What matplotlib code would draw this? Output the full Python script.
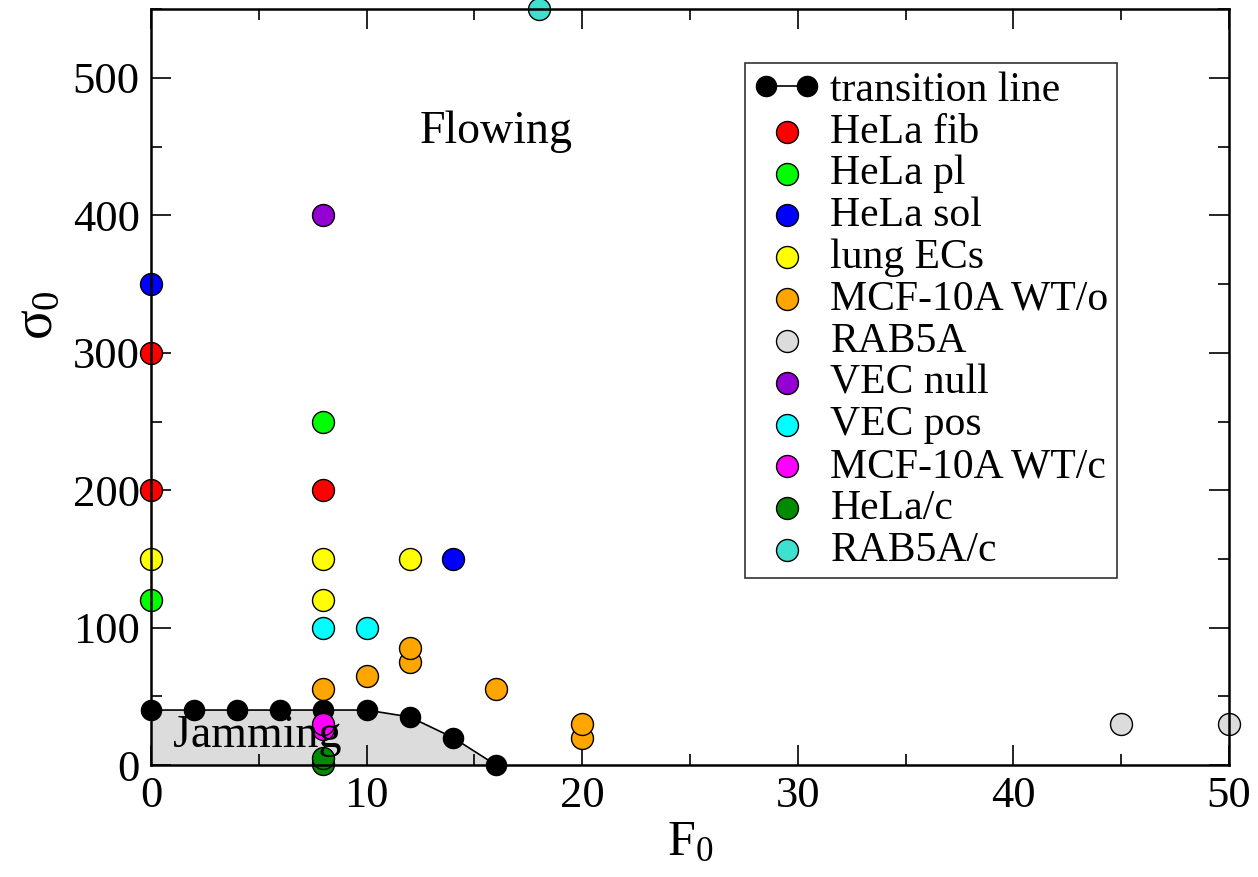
import matplotlib.pyplot as plt
from matplotlib.ticker import MultipleLocator

plt.rcParams["font.family"] = ["Liberation Serif", "DejaVu Serif"]
plt.rcParams["mathtext.fontset"] = "custom"
plt.rcParams["mathtext.rm"] = "Liberation Serif"
plt.rcParams["mathtext.it"] = "Liberation Serif"

# transition line between jamming and flowing
trans_f = [0, 2, 4, 6, 8, 10, 12, 14, 16]
trans_sigma = [40, 40, 40, 40, 40, 40, 35, 20, 0]

# experimental points (F0, sigma0)
hela_fib_f = [0, 0, 8]
hela_fib_s = [300, 200, 200]
hela_pl_f = [0, 8]
hela_pl_s = [120, 250]
hela_sol_f = [0, 14]
hela_sol_s = [350, 150]
lung_f = [0, 8, 8, 12]
lung_s = [150, 150, 120, 150]
mcf_o_f = [8, 10, 12, 12, 16, 20, 20]
mcf_o_s = [55, 65, 75, 85, 55, 20, 30]
rab5a_f = [45, 50]
rab5a_s = [30, 30]
vec_null_f = [8]
vec_null_s = [400]
vec_pos_f = [8, 10]
vec_pos_s = [100, 100]
mcf_c_f = [8, 8]
mcf_c_s = [26, 30]
hela_c_f = [8, 8]
hela_c_s = [1, 5]
rab5a_c_f = [18]
rab5a_c_s = [550]

series = [
    ("HeLa fib", hela_fib_f, hela_fib_s, "#ff0000"),
    ("HeLa pl", hela_pl_f, hela_pl_s, "#00ff00"),
    ("HeLa sol", hela_sol_f, hela_sol_s, "#0000ff"),
    ("lung ECs", lung_f, lung_s, "#ffff00"),
    ("MCF-10A WT/o", mcf_o_f, mcf_o_s, "#ffa500"),
    ("RAB5A", rab5a_f, rab5a_s, "#dcdcdc"),
    ("VEC null", vec_null_f, vec_null_s, "#9400d3"),
    ("VEC pos", vec_pos_f, vec_pos_s, "#00ffff"),
    ("MCF-10A WT/c", mcf_c_f, mcf_c_s, "#ff00ff"),
    ("HeLa/c", hela_c_f, hela_c_s, "#008b00"),
    ("RAB5A/c", rab5a_c_f, rab5a_c_s, "#40e0d0"),
]

fig = plt.figure(figsize=(12.58, 8.77), dpi=100)
ax = fig.add_axes([0.120, 0.1277, 0.857, 0.8617])

ax.fill_between(trans_f, trans_sigma, 0, color="#dcdcdc", lw=0, zorder=1)
ax.plot(trans_f, trans_sigma, "-o", color="black", lw=1.2, ms=14.5,
        label="transition line", zorder=3, clip_on=False)

for name, fx, sy, col in series:
    ax.scatter(fx, sy, s=250, c=col, edgecolors="black", linewidths=1.0,
               label=name, zorder=4, clip_on=False)

ax.text(12.48, 453, "Flowing", fontsize=33, ha="left", va="baseline", zorder=5)
ax.text(1.0, 13, "Jamming", fontsize=33, ha="left", va="baseline", zorder=5)

ax.set_xlim(0, 50)
ax.set_ylim(0, 550)
ax.xaxis.set_major_locator(MultipleLocator(10))
ax.xaxis.set_minor_locator(MultipleLocator(5))
ax.yaxis.set_major_locator(MultipleLocator(100))
ax.yaxis.set_minor_locator(MultipleLocator(50))
ax.tick_params(which="both", direction="in", top=True, right=True, width=1.2)
ax.tick_params(which="major", length=14.5, labelsize=32, pad=8)
ax.tick_params(which="minor", length=8)
for sp in ax.spines.values():
    sp.set_linewidth(1.8)
    sp.set_zorder(6)

ax.set_xlabel(r"$\mathrm{F}_0$", fontsize=36)
ax.set_ylabel(r"$\sigma_0$", fontsize=40)
ax.xaxis.set_label_coords(0.5, -0.103)
ax.xaxis.label.set_va("center")
ax.yaxis.set_label_coords(-0.105, 0.595)
ax.yaxis.label.set_va("center")
ax.yaxis.label.set_ha("center")

leg = ax.legend(loc="upper left", bbox_to_anchor=(0.551, 0.929), fontsize=30,
                numpoints=2, scatterpoints=1, frameon=True, fancybox=False,
                borderpad=0.2, labelspacing=0.08, handlelength=1.6,
                handletextpad=0.25, borderaxespad=0)
leg.get_frame().set_edgecolor("black")
leg.get_frame().set_linewidth(1.2)
leg.set_zorder(7)

fig.savefig("out.png", dpi=100)
